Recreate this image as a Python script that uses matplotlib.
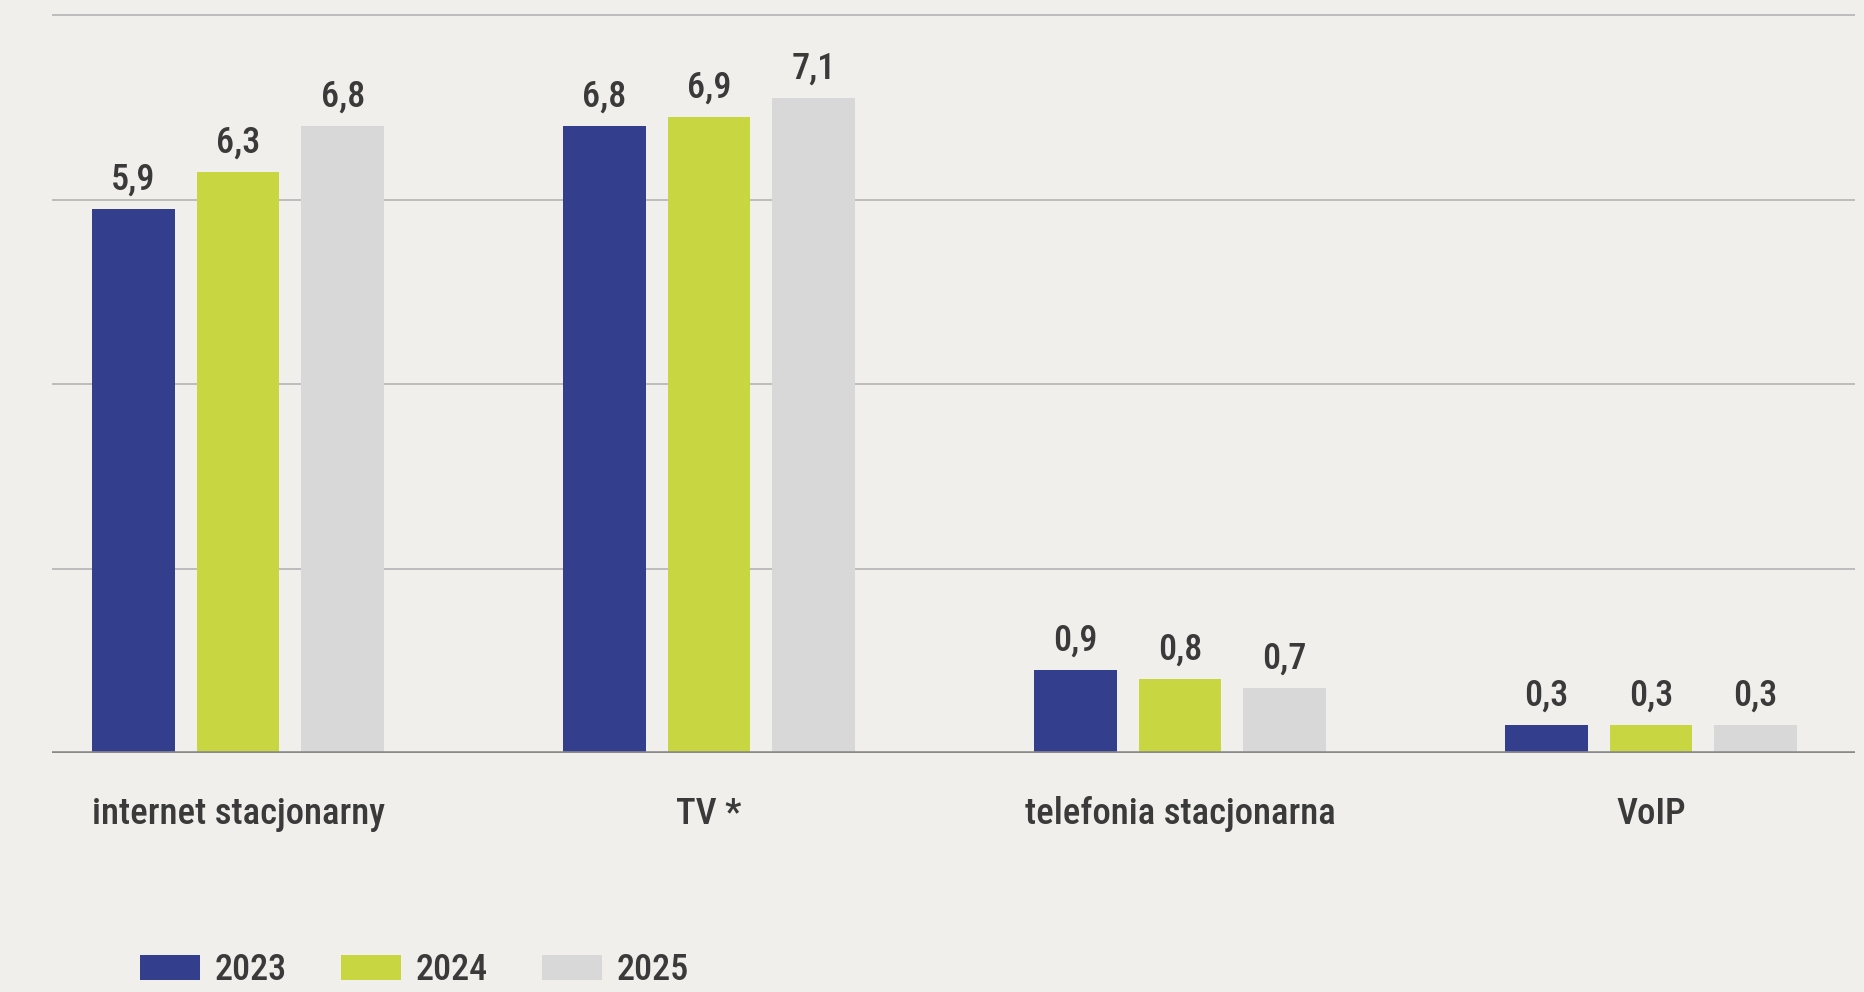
import numpy as np
from matplotlib import pyplot as plt
from matplotlib import font_manager

### Bar chart: three years per service category

categories = ['internet stacjonarny', 'TV *', 'telefonia stacjonarna', 'VoIP']
years = ['2023', '2024', '2025']
values_2023 = [5.9, 6.8, 0.9, 0.3]
values_2024 = [6.3, 6.9, 0.8, 0.3]
values_2025 = [6.8, 7.1, 0.7, 0.3]
series = [values_2023, values_2024, values_2025]
colors = ['#333f8c', '#c8d641', '#d8d8d8']

# pick a condensed font if there is one
names = set(f.name for f in font_manager.fontManager.ttflist)
family = 'Roboto Condensed' if 'Roboto Condensed' in names else 'Roboto'
plt.rcParams['font.family'] = [family, 'DejaVu Sans']
txtColor = '#3a3a3a'
bgColor = '#f0efeb'
wt = 'medium'

fig = plt.figure(figsize=(18.65, 9.92), dpi=100, facecolor=bgColor)
ax = fig.add_axes([0.0279, 0.2409, 0.9667, 0.7491])
ax.set_facecolor(bgColor)

x = np.arange(len(categories))
step = 0.2223
width = 0.1756

for i in range(len(series)):
    pos = x + (i - 1) * step
    bars = ax.bar(pos, series[i], width, color=colors[i], label=years[i], zorder=2)
    for b, v in zip(bars, series[i]):
        ax.annotate(f'{v:.1f}'.replace('.', ','), (b.get_x() + b.get_width() / 2, v),
                    xytext=(0, 14), textcoords='offset points', ha='center', va='baseline',
                    fontsize=26, fontweight=wt, color=txtColor)

ax.set_xlim(-0.395, 3.433)
ax.set_ylim(0, 8.06)
ax.set_yticks([2, 4, 6, 8])
ax.yaxis.grid(True, color='#b4b4b4', linewidth=1.2, zorder=0)
ax.set_axisbelow(True)
ax.axhline(0, color='#8a8a8a', linewidth=2.6, zorder=3)
ax.tick_params(axis='y', length=0, labelleft=False)
ax.set_xticks(x)
ax.set_xticklabels(categories, fontsize=26.5, fontweight=wt, color=txtColor)
ax.tick_params(axis='x', length=0, pad=31)
for s in ax.spines.values():
    s.set_visible(False)

# legend sits right at the bottom edge, as in the original
fig.legend(loc='upper left', bbox_to_anchor=(140 / 1865, 1 - 952 / 992), ncol=3, frameon=False,
           prop={'size': 26, 'weight': wt}, labelcolor=txtColor, borderpad=0, borderaxespad=0,
           handlelength=1.65, handleheight=0.7, handletextpad=0.42, columnspacing=1.5)

fig.savefig('out.png', dpi=100, facecolor=bgColor)
